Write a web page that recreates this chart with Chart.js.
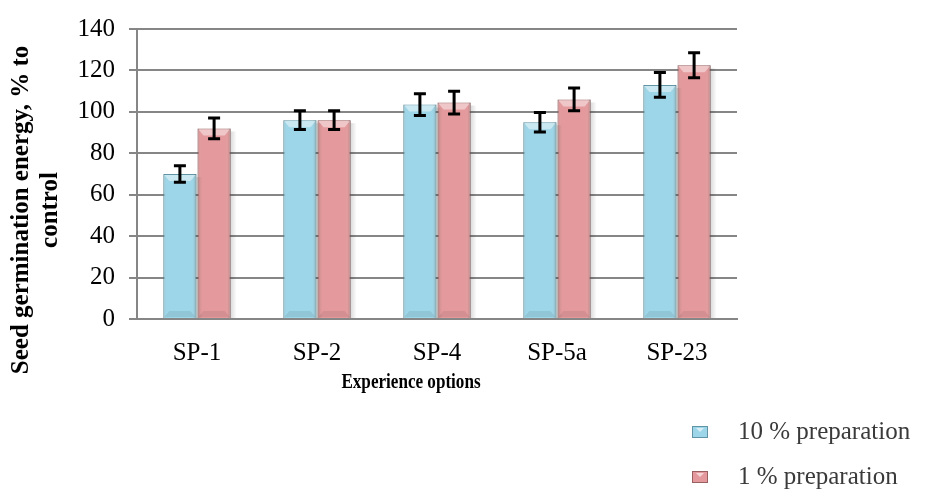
<!DOCTYPE html>
<html>
<head>
<meta charset="utf-8">
<title>Seed germination energy</title>
<script src="https://cdn.jsdelivr.net/npm/chart.js@4.4.1/dist/chart.umd.min.js"></script>
<style>
  html, body { margin: 0; padding: 0; background: #ffffff; }
  #wrap { position: relative; width: 931px; height: 489px; }
</style>
</head>
<body>
<div id="wrap"><canvas id="germChart" width="931" height="489"></canvas></div>
<script>
// --- data ---
const categories = ['SP-1', 'SP-2', 'SP-4', 'SP-5a', 'SP-23'];
const prep10 = [70, 96, 103.5, 95, 113];
const prep10Err = [4, 4.5, 5.3, 4.7, 6];
const prep1 = [92, 96, 104.5, 106, 122.5];
const prep1Err = [5, 4.5, 5.5, 5.5, 6];
const yTicks = [0, 20, 40, 60, 80, 100, 120, 140];
const seriesLabels = ['10 % preparation', '1 % preparation'];
const yTitle = ['Seed germination energy, % to', 'control'];
const xTitle = 'Experience options';

const THEME = {
    blue: '#9dd6e8',
    blueEdge: '#5f95a5',
    pink: '#e49a9c',
    pinkEdge: '#9a5f5f',
    grid: '#868686',
    text: '#000000',
    legendText: '#3a3a3a',
    serif: "'Liberation Serif', 'Times New Roman', serif"
};

// bevel + shadow on the bars, error bars, titles and the legend
const decorPlugin = {
    id: 'decor',
    afterDatasetsDraw(chart) {
        const ctx = chart.ctx;
        const yScale = chart.scales.y;
        const errs = [prep10Err, prep1Err];

        chart.data.datasets.forEach((ds, di) => {
            const meta = chart.getDatasetMeta(di);
            meta.data.forEach((bar, i) => {
                const { x, y, base, width } = bar.getProps(['x', 'y', 'base', 'width'], true);
                const l = x - width / 2, r = x + width / 2;
                ctx.save();
                // soft shadow on the right
                const sh = ctx.createLinearGradient(r, 0, r + 6, 0);
                sh.addColorStop(0, 'rgba(0,0,0,0.14)');
                sh.addColorStop(1, 'rgba(0,0,0,0)');
                ctx.fillStyle = sh;
                ctx.fillRect(r, y + 3, 6, base - y - 3);
                // side shading
                const g = ctx.createLinearGradient(l, 0, r, 0);
                g.addColorStop(0, 'rgba(0,0,0,0.12)');
                g.addColorStop(0.12, 'rgba(255,255,255,0)');
                g.addColorStop(0.85, 'rgba(255,255,255,0)');
                g.addColorStop(1, 'rgba(0,0,0,0.22)');
                ctx.fillStyle = g;
                ctx.fillRect(l, y, width, base - y);
                // top bevel
                ctx.fillStyle = 'rgba(255,255,255,0.45)';
                ctx.beginPath();
                ctx.moveTo(l + 1, y + 1);
                ctx.lineTo(r - 1, y + 1);
                ctx.lineTo(r - 6, y + 7);
                ctx.lineTo(l + 6, y + 7);
                ctx.closePath();
                ctx.fill();
                // bottom bevel
                ctx.fillStyle = 'rgba(0,0,0,0.07)';
                ctx.beginPath();
                ctx.moveTo(l + 1, base - 1);
                ctx.lineTo(r - 1, base - 1);
                ctx.lineTo(r - 6, base - 7);
                ctx.lineTo(l + 6, base - 7);
                ctx.closePath();
                ctx.fill();
                ctx.restore();

                // error bar
                const v = ds.data[i];
                const e = errs[di][i];
                const yt = yScale.getPixelForValue(v + e);
                const yb = yScale.getPixelForValue(v - e);
                ctx.save();
                ctx.strokeStyle = '#000000';
                ctx.lineWidth = 3;
                ctx.beginPath();
                ctx.moveTo(x, yt); ctx.lineTo(x, yb);
                ctx.moveTo(x - 6, yt); ctx.lineTo(x + 6, yt);
                ctx.moveTo(x - 6, yb); ctx.lineTo(x + 6, yb);
                ctx.stroke();
                ctx.restore();
            });
        });
    },
    afterDraw(chart) {
        const ctx = chart.ctx;
        ctx.save();
        ctx.fillStyle = THEME.text;
        ctx.textAlign = 'center';
        ctx.textBaseline = 'middle';

        // y axis title (two lines, rotated)
        ctx.font = "bold 25px " + THEME.serif;
        ctx.translate(22, 210);
        ctx.rotate(-Math.PI / 2);
        ctx.fillText(yTitle[0], 0, 0);
        ctx.fillText(yTitle[1], 0, 29);
        ctx.restore();

        // x axis title, a touch taller than wide as in the source
        ctx.save();
        ctx.fillStyle = THEME.text;
        ctx.textAlign = 'center';
        ctx.textBaseline = 'middle';
        ctx.font = "bold 18px " + THEME.serif;
        ctx.translate(411, 382);
        ctx.scale(0.95, 1.2);
        ctx.fillText(xTitle, 0, 0);
        ctx.restore();

        // legend
        const rows = [432, 477];
        chart.data.datasets.forEach((ds, di) => {
            const cy = rows[di];
            ctx.save();
            ctx.fillStyle = ds.backgroundColor;
            ctx.strokeStyle = ds.borderColor;
            ctx.lineWidth = 1;
            ctx.fillRect(692, cy - 6, 16, 12);
            ctx.strokeRect(692.5, cy - 5.5, 15, 11);
            ctx.fillStyle = 'rgba(255,255,255,0.6)';
            ctx.beginPath();
            ctx.moveTo(696, cy - 4);
            ctx.lineTo(704, cy - 4);
            ctx.lineTo(700, cy);
            ctx.closePath();
            ctx.fill();
            ctx.fillStyle = THEME.legendText;
            ctx.textAlign = 'left';
            ctx.textBaseline = 'middle';
            ctx.font = "25px " + THEME.serif;
            ctx.fillText(ds.label, 738, cy);
            ctx.restore();
        });
    }
};

const canvas = document.getElementById('germChart');
new Chart(canvas.getContext('2d'), {
    type: 'bar',
    data: {
        labels: categories,
        datasets: [
            {
                label: seriesLabels[0],
                data: prep10,
                backgroundColor: THEME.blue,
                borderColor: THEME.blueEdge,
                borderWidth: 1,
                categoryPercentage: 0.57,
                barPercentage: 0.97
            },
            {
                label: seriesLabels[1],
                data: prep1,
                backgroundColor: THEME.pink,
                borderColor: THEME.pinkEdge,
                borderWidth: 1,
                categoryPercentage: 0.57,
                barPercentage: 0.97
            }
        ]
    },
    options: {
        responsive: false,
        animation: false,
        layout: { padding: { top: 27, right: 194, bottom: 0, left: 0 } },
        plugins: {
            legend: { display: false },
            tooltip: { enabled: false }
        },
        scales: {
            x: {
                grid: { display: false, drawTicks: false },
                border: { display: true, color: THEME.grid, width: 2 },
                ticks: {
                    color: THEME.text,
                    padding: 19,
                    font: { family: THEME.serif, size: 25 }
                },
                afterFit(scale) { scale.height = 170; }
            },
            y: {
                min: 0,
                max: 140,
                afterBuildTicks(scale) { scale.ticks = yTicks.map(v => ({ value: v })); },
                grid: { color: THEME.grid, lineWidth: 2, tickLength: 8 },
                border: { display: true, color: THEME.grid, width: 2 },
                ticks: {
                    color: THEME.text,
                    padding: 14,
                    font: { family: THEME.serif, size: 25 }
                },
                afterFit(scale) { scale.width = 137; }
            }
        }
    },
    plugins: [decorPlugin]
});
</script>
</body>
</html>
